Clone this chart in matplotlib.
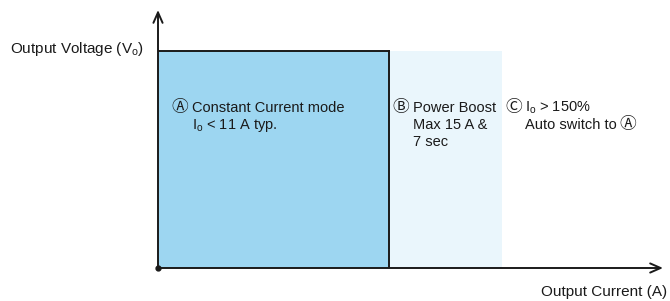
import numpy as np
import matplotlib.pyplot as plt
from matplotlib.patches import Rectangle

plt.rcParams['font.family'] = ['Liberation Sans', 'DejaVu Sans']
plt.rcParams['mathtext.fontset'] = 'custom'
plt.rcParams['mathtext.rm'] = 'Liberation Sans'
plt.rcParams['mathtext.it'] = 'Liberation Sans'

# region edges along the current axis (arbitrary units) and voltage level
edges = [0, 10, 14.9]
v_level = 1.0
x_max = 21.9
y_max = 1.19
region_colors = ['#9dd6f1', '#eaf6fc']
region_marks = ["\u24b6", "\u24b7", "\u24b8"]
region_lines = [
    ["Constant Current mode", "I$_\\mathrm{o}$ < 11 A typ."],
    ["Power Boost", "Max 15 A &", "7 sec"],
    ["I$_\\mathrm{o}$ > 150%", "Auto switch to"],
]
mark_x = [0.58, 10.15, 15.06]
body_x = [1.48, 11.08, 15.9]
line_y = [0.72, 0.641, 0.563]

fig = plt.figure(figsize=(6.7, 3.01), dpi=100)
ax = fig.add_axes([158 / 670, 33 / 301, 505 / 670, 258 / 301])
ax.set_xlim(0, x_max)
ax.set_ylim(0, y_max)
ax.axis('off')

circ_font = ['DejaVu Sans', 'Noto Sans CJK JP']

# shaded regions
for i in range(len(edges) - 1):
    ax.add_patch(Rectangle((edges[i], 0), edges[i + 1] - edges[i], v_level,
                           facecolor=region_colors[i], edgecolor='none', zorder=1))

# voltage limit line and boost boundary
ax.plot([-0.26, edges[1]], [v_level, v_level], color='#1a1a1a', lw=1.4, zorder=3)
ax.plot([edges[1], edges[1]], [0, v_level], color='#1a1a1a', lw=1.4, zorder=3)

# axes arrows
arrow = dict(arrowstyle='->,head_length=0.75,head_width=0.33',
             color='#1a1a1a', lw=1.4, shrinkA=0, shrinkB=0)
ax.annotate('', xy=(0, y_max), xytext=(0, 0), arrowprops=arrow,
            annotation_clip=False, zorder=4)
ax.annotate('', xy=(x_max, 0), xytext=(0, 0), arrowprops=arrow,
            annotation_clip=False, zorder=4)
ax.plot([0], [0], 'o', color='#1a1a1a', ms=3.5, zorder=5, clip_on=False)

last = None
for mx, bx, mark, lines in zip(mark_x, body_x, region_marks, region_lines):
    ax.text(mx, line_y[0], mark, fontsize=12, family=circ_font,
            va='baseline', ha='left', color='#1a1a1a', zorder=6)
    for y, line in zip(line_y, lines):
        last = ax.text(bx, y, line, fontsize=10.5, va='baseline', ha='left',
                       color='#1a1a1a', zorder=6)

# trailing circled A after "Auto switch to"
fig.canvas.draw()
bb = last.get_window_extent().transformed(ax.transData.inverted())
ax.text(bb.x1 + 0.15, line_y[1], region_marks[0], fontsize=12, family=circ_font,
        va='baseline', ha='left', color='#1a1a1a', zorder=6)

fig.text(144 / 670, 1 - 53 / 301, "Output Voltage (V$_\\mathrm{o}$)", fontsize=11,
         ha='right', va='baseline', color='#1a1a1a')
fig.text(667 / 670, 1 - 296 / 301, "Output Current (A)", fontsize=11,
         ha='right', va='baseline', color='#1a1a1a')

fig.savefig('out.png', dpi=100)
